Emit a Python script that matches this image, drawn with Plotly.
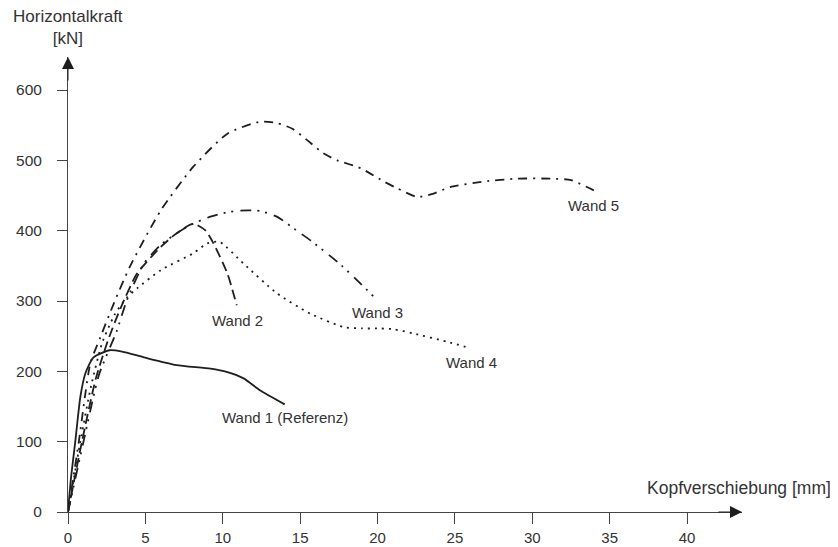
import plotly.graph_objects as go

# Data (x: Kopfverschiebung [mm], y: Horizontalkraft [kN])
w1_x = [0, 0.2, 0.47, 0.8, 1.12, 1.65, 2.7, 3.5, 4.9, 7.0, 9.2, 10.3, 11.35, 12.4, 14.0]
w1_y = [0, 50, 100, 164, 197, 220, 230, 228, 220, 209, 204, 199, 190, 173, 153]

w2_x = [0, 0.9, 1.8, 2.6, 3.4, 4.46, 6.0, 7.0, 8.1, 8.9, 9.4, 10.3, 10.9]
w2_y = [0, 100, 190, 245, 290, 339, 377, 396, 410, 400, 382, 339, 294]

w3_x = [0, 1.0, 2.0, 3.16, 3.8, 4.9, 6.0, 7.0, 7.9, 9.2, 10.5, 11.6, 12.4, 13.5, 14.6, 15.8, 17.65, 20.0]
w3_y = [0, 100, 195, 258, 301, 353, 380, 396, 408, 420, 427, 429, 428, 420, 403, 384, 351, 301]

w4_x = [0, 0.8, 1.5, 2.2, 3.0, 3.8, 4.46, 6.0, 8.1, 9.0, 9.8, 11.35, 13.5, 15.66, 17.8, 19.0, 20.2, 21.0, 22.3, 24.5, 26.0]
w4_y = [0, 100, 180, 240, 280, 305, 318, 344, 368, 382, 384, 353, 311, 282, 263, 261, 261, 260, 254, 242, 233]

w5_x = [0, 0.7, 1.44, 2.1, 2.95, 4.0, 6.0, 8.1, 10.3, 12.4, 13.5, 14.5, 15.66, 16.5, 17.4, 18.9, 20.4, 21.3, 22.55, 23.5, 24.7, 26.9, 29.0, 31.2, 32.5, 34.0]
w5_y = [0, 100, 211, 249, 296, 349, 429, 491, 538, 555, 553, 545, 525, 510, 500, 489, 470, 460, 448, 452, 462, 470, 474, 474, 472, 457]

series_names = ["Wand 1 (Referenz)", "Wand 2", "Wand 3", "Wand 4", "Wand 5"]
label_x = [14.05, 10.92, 19.99, 26.1, 33.98]
label_y = [134, 273, 283, 213, 436]

x_ticks = [0, 5, 10, 15, 20, 25, 30, 35, 40]
y_ticks = [0, 100, 200, 300, 400, 500, 600]
x_max = 43.55
y_max = 647

line_col = "#1e1e1e"
text_col = "#333333"
font_fam = "Liberation Sans, Arial, sans-serif"

dashes = ["solid", "10px,5px", "11px,6px,2px,6px,2px,7px", "2px,5px", "9px,6px,2px,6px"]
xs = [w1_x, w2_x, w3_x, w4_x, w5_x]
ys = [w1_y, w2_y, w3_y, w4_y, w5_y]

fig = go.Figure()
for name, x, y, d in zip(series_names, xs, ys, dashes):
    fig.add_trace(go.Scatter(
        x=x, y=y, mode="lines", name=name,
        line=dict(color=line_col, width=1.8, dash=d, shape="spline", smoothing=0.6),
        showlegend=False, hoverinfo="skip"))

annotations = []
for name, lx, ly in zip(series_names, label_x, label_y):
    annotations.append(dict(x=lx, y=ly, xref="x", yref="y", text=name, showarrow=False,
                            font=dict(size=15, color=text_col, family=font_fam),
                            xanchor="center", yanchor="middle"))

# axis arrowheads
annotations.append(dict(x=x_max, y=0, xref="x", yref="y", ax=-25, ay=0, axref="pixel", ayref="pixel",
                        text="", showarrow=True, arrowhead=2, arrowsize=2.4, arrowwidth=1,
                        arrowcolor=line_col))
annotations.append(dict(x=0, y=y_max, xref="x", yref="y", ax=0, ay=25, axref="pixel", ayref="pixel",
                        text="", showarrow=True, arrowhead=2, arrowsize=2.4, arrowwidth=1,
                        arrowcolor=line_col))

# axis titles
annotations.append(dict(x=0, y=1, xref="paper", yref="paper", text="Horizontalkraft<br>[kN]",
                        showarrow=False, xanchor="center", yanchor="bottom", yshift=7,
                        font=dict(size=17, color=text_col, family=font_fam)))
annotations.append(dict(x=1.1355, y=0.052, xref="paper", yref="paper", text="Kopfverschiebung [mm]",
                        showarrow=False, xanchor="right", yanchor="middle",
                        font=dict(size=17.5, color=text_col, family=font_fam)))

fig.update_layout(
    width=838, height=547,
    margin=dict(l=60, r=104, t=49, b=43, autoexpand=False),
    paper_bgcolor="white", plot_bgcolor="white",
    annotations=annotations,
    font=dict(family=font_fam, color=text_col),
)
fig.update_xaxes(range=[0, x_max], tickvals=x_ticks, ticks="outside", ticklen=11,
                 tickcolor="#444", tickwidth=1, showgrid=False, zeroline=False, automargin=False,
                 showline=True, linecolor="#444", linewidth=1, ticklabelstandoff=1,
                 tickfont=dict(size=15, color=text_col, family=font_fam))
fig.update_yaxes(range=[0, y_max], tickvals=y_ticks, ticks="outside", ticklen=10,
                 tickcolor="#444", tickwidth=1, showgrid=False, zeroline=False, automargin=False,
                 showline=True, linecolor="#444", linewidth=1, ticklabelstandoff=12,
                 tickfont=dict(size=15.5, color=text_col, family=font_fam))

fig.write_html("out.html")
